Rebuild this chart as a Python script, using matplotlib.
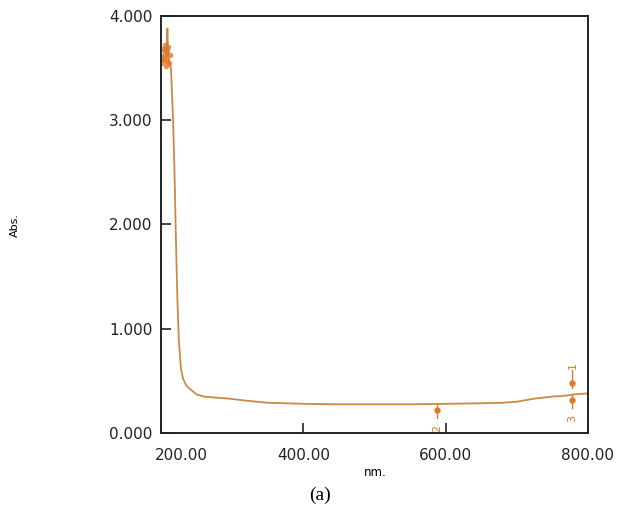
import matplotlib
matplotlib.use("Agg")
import matplotlib.pyplot as plt
from matplotlib.transforms import ScaledTranslation

# UV-Vis spectrum
wavelength = [203, 206, 208, 209, 210, 212, 214, 217, 219, 221, 223, 225, 228,
              231, 236, 243, 250, 260, 275, 295, 320, 350, 400, 450, 500, 550,
              600, 650, 680, 700, 725, 750, 765, 780, 800]
absorbance = [3.62, 3.70, 3.60, 3.88, 3.62, 3.55, 3.50, 3.00, 2.50, 1.85, 1.30,
              0.90, 0.62, 0.52, 0.45, 0.41, 0.37, 0.35, 0.34, 0.33, 0.31, 0.29,
              0.28, 0.275, 0.275, 0.275, 0.28, 0.285, 0.29, 0.30, 0.33, 0.35,
              0.355, 0.37, 0.38]

# noisy orange cluster at the start of the scan
noise_wl = [201, 202, 203, 204, 205, 206, 207, 208, 209, 210, 211, 212]
noise_abs = [3.60, 3.55, 3.68, 3.58, 3.72, 3.62, 3.52, 3.66, 3.57, 3.70, 3.55, 3.63]

# peak / valley picks
pick_labels = ["1", "2", "3"]
pick_wl = [778, 588, 778]
pick_abs = [0.48, 0.22, 0.32]

xticks = [200, 400, 600, 800]
yticks = [0, 1, 2, 3, 4]

line_color = "#c98a45"
mark_color = "#e0782a"

fig = plt.figure(figsize=(6.23, 5.12), dpi=100)
ax = fig.add_axes([0.2584, 0.1543, 0.6854, 0.8145])

ax.plot(wavelength, absorbance, color=line_color, lw=1.3)
ax.plot(noise_wl, noise_abs, "o", color=mark_color, ms=4, alpha=0.8, mec="none")

# pick markers: short vertical bar, dot, rotated number
for lab, w, a in zip(pick_labels, pick_wl, pick_abs):
    up = lab == "1"
    end = a + 0.12 if up else a - 0.08
    ax.plot([w, w], [a - 0.05 if up else a + 0.05, end], color=mark_color, lw=1.0)
    ax.plot([w], [a], "o", color=mark_color, ms=3.5)
    ty = a + 0.17 if up else a - 0.18
    ax.text(w, ty, lab, color=mark_color, fontsize=8, rotation=90,
            ha="center", va="center")

ax.set_xlim(200, 800)
ax.set_ylim(0, 4)
ax.set_xticks(xticks)
ax.set_xticklabels([f"{v:.2f}" for v in xticks])
ax.set_yticks(yticks)
ax.set_yticklabels([f"{v:.3f}" for v in yticks])
ax.tick_params(direction="in", length=7, width=1.2, labelsize=11, color="#222222",
               labelcolor="#222222", top=False, right=False)
ax.tick_params(axis="x", pad=11)
ax.tick_params(axis="y", pad=6)
for sp in ax.spines.values():
    sp.set_linewidth(1.4)
    sp.set_color("#222222")

# first x label sits a bit to the right in the original
lbl = ax.get_xticklabels()[0]
lbl.set_transform(lbl.get_transform() + ScaledTranslation(20 / 100, 0, fig.dpi_scale_trans))

fig.text(15 / 623, 1 - 225 / 512, "Abs.", rotation=90, fontsize=8,
         ha="center", va="center")
fig.text(375 / 623, 1 - 472 / 512, "nm.", fontsize=8.5, ha="center", va="center")
fig.text(320 / 623, 1 - 495 / 512, "(a)", fontsize=14, family="Liberation Serif",
         ha="center", va="center")

fig.savefig("out.png", dpi=100)
